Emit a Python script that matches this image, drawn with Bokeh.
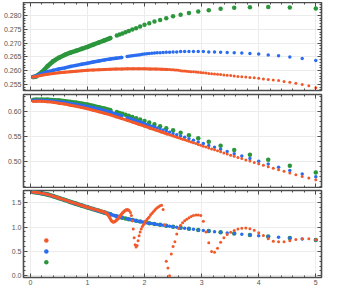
import numpy as np
from bokeh.plotting import figure
from bokeh.layouts import column
from bokeh.models import Range1d, LinearAxis, FixedTicker, PrintfTickFormatter, Grid
from bokeh.embed import file_html
from bokeh.resources import INLINE

# ---------------- data ----------------
X_GREEN = [0.05, 0.1, 0.2, 0.3, 0.4, 0.5, 0.6, 0.7, 0.8, 0.9, 1.0, 1.1, 1.2, 1.3, 1.4,
           1.515, 1.563, 1.613, 1.667, 1.724, 1.786, 1.852, 1.923, 2.0, 2.083, 2.174, 2.273,
           2.381, 2.5, 2.632, 2.778, 2.941, 3.125, 3.333, 3.571, 3.846, 4.167, 4.545, 5.0]
TOP_GREEN = [0.2577, 0.2579, 0.2594, 0.2616, 0.2634, 0.2647, 0.2657, 0.2665, 0.2672, 0.2679,
             0.2686, 0.2694, 0.2702, 0.2710, 0.2718, 0.2727, 0.2731, 0.2735, 0.2739, 0.2744,
             0.2749, 0.2754, 0.2760, 0.2766, 0.2772, 0.2778, 0.2784, 0.2790, 0.2797, 0.2803,
             0.2809, 0.2814, 0.2819, 0.2824, 0.2828, 0.2830, 0.2831, 0.2829, 0.2825]
MID_GREEN = [0.6222, 0.6226, 0.6228, 0.6225, 0.6218, 0.6209, 0.6197, 0.6182, 0.6165, 0.6146,
             0.6125, 0.6101, 0.6075, 0.6047, 0.6017, 0.5980, 0.5963, 0.5946, 0.5927, 0.5906,
             0.5884, 0.5860, 0.5834, 0.5805, 0.5773, 0.5738, 0.5700, 0.5660, 0.5618, 0.5570,
             0.5518, 0.5460, 0.5392, 0.5312, 0.5228, 0.5130, 0.5030, 0.4912, 0.4780]
BOT_GREEN = [1.720, 1.715, 1.696, 1.670, 1.635, 1.597, 1.558, 1.518, 1.480, 1.443,
             1.407, 1.371, 1.335, 1.299, 1.263, 1.220, 1.205, 1.190, 1.175, 1.160,
             1.145, 1.130, 1.113, 1.095, 1.080, 1.064, 1.046, 1.027, 1.007, 0.987,
             0.965, 0.943, 0.919, 0.893, 0.867, 0.839, 0.809, 0.775, 0.737]

X_BLUE = [0.05, 0.1, 0.2, 0.3, 0.4, 0.5, 0.6, 0.7, 0.8, 0.9, 1.0, 1.1, 1.2, 1.3, 1.4, 1.5, 1.6,
          1.695, 1.724, 1.754, 1.786, 1.818, 1.852, 1.887, 1.923, 1.961, 2.0, 2.041, 2.083,
          2.128, 2.174, 2.222, 2.273, 2.326, 2.381, 2.439, 2.5, 2.564, 2.632, 2.703, 2.778,
          2.857, 2.941, 3.030, 3.125, 3.226, 3.333, 3.448, 3.571, 3.704, 3.846, 4.0, 4.167,
          4.348, 4.545, 4.762, 5.0]
TOP_BLUE = [0.2577, 0.2581, 0.2589, 0.2596, 0.2601, 0.2606, 0.2610, 0.2615, 0.2619, 0.2623,
            0.2627, 0.2631, 0.2635, 0.2639, 0.2642, 0.2645, 0.2648,
            0.2651, 0.2652, 0.2653, 0.2654, 0.2655, 0.2656, 0.2657, 0.2658, 0.2659, 0.2660,
            0.2661, 0.2662, 0.2663, 0.2664, 0.2665, 0.2665, 0.2666, 0.2667, 0.2667, 0.2668,
            0.2668, 0.2669, 0.2669, 0.2669, 0.2669, 0.2669, 0.2669, 0.2668, 0.2668, 0.2667,
            0.2666, 0.2665, 0.2664, 0.2662, 0.2660, 0.2657, 0.2654, 0.2649, 0.2644, 0.2637]
MID_BLUE = [0.6210, 0.6212, 0.6212, 0.6207, 0.6197, 0.6185, 0.6170, 0.6152, 0.6133, 0.6112,
            0.6089, 0.6065, 0.6038, 0.6010, 0.5979, 0.5938, 0.5903,
            0.5868, 0.5857, 0.5846, 0.5834, 0.5821, 0.5808, 0.5795, 0.5781, 0.5766, 0.5750,
            0.5734, 0.5717, 0.5700, 0.5682, 0.5663, 0.5644, 0.5623, 0.5602, 0.5580, 0.5556,
            0.5531, 0.5505, 0.5478, 0.5449, 0.5419, 0.5387, 0.5353, 0.5317, 0.5279, 0.5239,
            0.5197, 0.5152, 0.5105, 0.5055, 0.5002, 0.4945, 0.4884, 0.4819, 0.4750, 0.4695]
BOT_BLUE = [1.720, 1.715, 1.696, 1.670, 1.635, 1.597, 1.558, 1.518, 1.480, 1.443,
            1.407, 1.371, 1.335, 1.299, 1.263, 1.228, 1.195,
            1.170, 1.162, 1.155, 1.147, 1.139, 1.131, 1.122, 1.114, 1.105, 1.096,
            1.088, 1.080, 1.072, 1.064, 1.055, 1.046, 1.037, 1.027, 1.017, 1.007,
            0.997, 0.987, 0.976, 0.965, 0.954, 0.943, 0.931, 0.919, 0.906, 0.893,
            0.880, 0.867, 0.853, 0.839, 0.824, 0.809, 0.792, 0.775, 0.757, 0.737]

X_ORANGE = [0.05, 0.1, 0.2, 0.3, 0.4, 0.5, 0.6, 0.7, 0.8, 0.9, 1.0, 1.1, 1.2, 1.3, 1.4, 1.5,
            1.6, 1.7, 1.8, 1.9, 2.0, 2.1, 2.2, 2.3, 2.4,
            2.439, 2.469, 2.5, 2.532, 2.564, 2.597, 2.632, 2.667, 2.703, 2.740, 2.778, 2.817,
            2.857, 2.899, 2.941, 2.985, 3.030, 3.077, 3.125, 3.175, 3.226, 3.279, 3.333, 3.390,
            3.448, 3.509, 3.571, 3.636, 3.704, 3.774, 3.846, 3.922, 4.0, 4.082, 4.167, 4.255,
            4.348, 4.444, 4.545, 4.651, 4.762, 4.878, 5.0]
TOP_ORANGE = [0.2577, 0.2579, 0.2583, 0.2587, 0.2590, 0.2592, 0.2594, 0.2596, 0.2598, 0.2600,
              0.2601, 0.2602, 0.2603, 0.2604, 0.2605, 0.2606, 0.2606, 0.2607, 0.2607, 0.2607,
              0.2607, 0.2606, 0.2606, 0.2605, 0.2604,
              0.2604, 0.2603, 0.2603, 0.2602, 0.2602, 0.2601, 0.2600, 0.2599, 0.2599, 0.2598,
              0.2597, 0.2596, 0.2596, 0.2595, 0.2594, 0.2593, 0.2592, 0.2591, 0.2590, 0.2589,
              0.2588, 0.2587, 0.2586, 0.2584, 0.2583, 0.2582, 0.2581, 0.2579, 0.2578, 0.2577,
              0.2575, 0.2574, 0.2572, 0.2570, 0.2568, 0.2566, 0.2564, 0.2561, 0.2558, 0.2554,
              0.2550, 0.2545, 0.2538]
MID_ORANGE = [0.6197, 0.6198, 0.6195, 0.6187, 0.6174, 0.6158, 0.6139, 0.6118, 0.6095, 0.6071,
              0.6045, 0.6017, 0.5988, 0.5958, 0.5925, 0.5886, 0.5851, 0.5814, 0.5776, 0.5738,
              0.5700, 0.5659, 0.5622, 0.5584, 0.5545,
              0.5530, 0.5518, 0.5506, 0.5493, 0.5481, 0.5468, 0.5455, 0.5441, 0.5428, 0.5413,
              0.5399, 0.5384, 0.5369, 0.5353, 0.5337, 0.5320, 0.5303, 0.5285, 0.5267, 0.5248,
              0.5229, 0.5209, 0.5189, 0.5168, 0.5147, 0.5124, 0.5102, 0.5078, 0.5055, 0.5029,
              0.5005, 0.4978, 0.4952, 0.4924, 0.4895, 0.4864, 0.4834, 0.4802, 0.4769, 0.4735,
              0.4700, 0.4668, 0.4633]

X_ORANGE_BOT = [0.05, 0.1, 0.2, 0.3, 0.4, 0.5, 0.6, 0.7, 0.8, 0.9, 1.0, 1.1, 1.2,
                1.25, 1.275, 1.3, 1.325, 1.35, 1.375, 1.4, 1.425, 1.45, 1.475, 1.5, 1.525,
                1.55, 1.575, 1.6, 1.625, 1.65, 1.675, 1.7, 1.725,
                1.754, 1.770, 1.786, 1.802, 1.818, 1.835, 1.852, 1.869, 1.887, 1.905, 1.923,
                1.942, 1.961, 1.980, 2.0, 2.020, 2.041, 2.062, 2.083, 2.105, 2.128, 2.151,
                2.174, 2.198, 2.222, 2.247, 2.273, 2.299, 2.326, 2.353, 2.381, 2.410, 2.439,
                2.469, 2.5, 2.532, 2.564, 2.597, 2.632, 2.667, 2.703, 2.740, 2.778, 2.817,
                2.857, 2.899, 2.941, 2.985, 3.030, 3.077, 3.125, 3.175, 3.226, 3.279, 3.333,
                3.390, 3.448, 3.509, 3.571, 3.636, 3.704, 3.774, 3.846, 3.922, 4.0, 4.082,
                4.167, 4.255, 4.348, 4.444, 4.545, 4.651, 4.762, 4.878, 5.0]
BOT_ORANGE = [1.722, 1.717, 1.698, 1.672, 1.637, 1.599, 1.560, 1.520, 1.482, 1.445, 1.409,
              1.374, 1.340,
              1.325, 1.315, 1.305, 1.290, 1.265, 1.225, 1.170, 1.125, 1.105, 1.110, 1.130,
              1.160, 1.195, 1.235, 1.270, 1.305, 1.330, 1.350, 1.358, 1.345,
              1.300, 1.240, 1.130, 0.960, 0.780, 0.640, 0.590, 0.620, 0.720, 0.820, 0.900,
              0.960, 1.010, 1.050, 1.080, 1.120, 1.150, 1.180, 1.210, 1.250, 1.280, 1.310,
              1.340, 1.370, 1.400, 1.420, 1.440, 1.450, 1.360, 1.050, 0.300, 0.160, 0.000,
              0.450, 0.600, 0.700, 0.860, 0.970, 1.040, 1.090, 1.130, 1.160, 1.190, 1.220,
              1.240, 1.250, 1.250, 1.240, 1.120, 0.900, 0.680, 0.500, 0.485, 0.567, 0.690,
              0.780, 0.850, 0.895, 0.930, 0.960, 0.975, 0.980, 0.965, 0.935, 0.885, 0.830,
              0.760, 0.710, 0.700, 0.700, 0.720, 0.745, 0.760, 0.760, 0.740]

KEY_X = [0.28, 0.28, 0.28]
KEY_Y = [0.725, 0.499, 0.279]

X_TICKS = [0, 1, 2, 3, 4, 5]
TOP_TICKS = [0.255, 0.260, 0.265, 0.270, 0.275, 0.280]
MID_TICKS = [0.50, 0.55, 0.60]
BOT_TICKS = [0.0, 0.5, 1.0, 1.5]

# ---------------- style ----------------
ORANGE = "#F2592A"
BLUE = "#2B6DF0"
GREEN = "#2C963C"
FRAME = "#4d4d4d"
GRIDC = "#ececec"
LABC = "#555555"
FONT = "Liberation Sans"

xr = Range1d(-0.12, 5.1)
x_minor = [round(v, 2) for v in np.arange(-0.2, 5.21, 0.2)]


def panel(yr, yticks, yminor, yfmt, fh, bt, bb, show_x):
    p = figure(frame_width=298, frame_height=fh, x_range=xr, y_range=Range1d(*yr),
               x_axis_type=None, y_axis_type=None, output_backend="svg",
               toolbar_location=None, min_border_left=20, min_border_right=7,
               min_border_top=bt, min_border_bottom=bb)
    p.outline_line_color = FRAME
    p.outline_line_width = 1.6
    p.background_fill_color = "white"
    p.border_fill_color = "white"
    xt = FixedTicker(ticks=X_TICKS, minor_ticks=x_minor)
    yt = FixedTicker(ticks=yticks, minor_ticks=yminor)
    p.add_layout(Grid(dimension=0, ticker=xt, grid_line_color=GRIDC, grid_line_width=1))
    p.add_layout(Grid(dimension=1, ticker=yt, grid_line_color=GRIDC, grid_line_width=1))
    for loc, tk, lab, fmt in [("below", xt, show_x, "%d"), ("above", xt, False, "%d"),
                              ("left", yt, True, yfmt), ("right", yt, False, yfmt)]:
        ax = LinearAxis(ticker=tk, formatter=PrintfTickFormatter(format=fmt))
        ax.axis_line_color = None
        ax.major_tick_in = 4
        ax.major_tick_out = 0
        ax.minor_tick_in = 2
        ax.minor_tick_out = 0
        ax.major_tick_line_color = FRAME
        ax.minor_tick_line_color = FRAME
        ax.major_tick_line_width = 1
        ax.minor_tick_line_width = 1
        if lab:
            ax.major_label_text_font = FONT
            ax.major_label_text_font_size = "7px"
            ax.major_label_text_color = LABC
            ax.major_label_standoff = 2
        else:
            ax.major_label_text_font_size = "0px"
            ax.major_label_text_color = None
            ax.major_label_standoff = 0
        p.add_layout(ax, loc)
    return p


def draw(p, xs, ys, color, size, cutoff):
    xd = [x for x in xs if x <= cutoff]
    yd = ys[:len(xd)]
    p.line(xd, yd, line_color=color, line_width=size, line_cap="round", line_join="round")
    p.scatter(xs, ys, size=size, fill_color=color, line_color=None, marker="circle")


top = panel((0.2528, 0.2847), TOP_TICKS, [round(v, 3) for v in np.arange(0.252, 0.2851, 0.001)],
            "%.3f", 88, 0, 2, False)
draw(top, X_GREEN, TOP_GREEN, GREEN, 4.5, 1.45)
draw(top, X_BLUE, TOP_BLUE, BLUE, 3.5, 1.65)
draw(top, X_ORANGE, TOP_ORANGE, ORANGE, 3.0, 2.42)

mid = panel((0.448, 0.633), MID_TICKS, [round(v, 2) for v in np.arange(0.44, 0.641, 0.01)],
            "%.2f", 93, 2, 1, False)
draw(mid, X_GREEN, MID_GREEN, GREEN, 4.5, 1.45)
draw(mid, X_BLUE, MID_BLUE, BLUE, 3.5, 1.65)
draw(mid, X_ORANGE, MID_ORANGE, ORANGE, 3.0, 2.42)

bot = panel((-0.035, 1.752), BOT_TICKS, [round(v, 1) for v in np.arange(-0.1, 1.81, 0.1)],
            "%.1f", 87, 2, 10, True)
draw(bot, X_GREEN, BOT_GREEN, GREEN, 4.5, 1.45)
draw(bot, X_BLUE, BOT_BLUE, BLUE, 3.5, 1.65)
draw(bot, X_ORANGE_BOT, BOT_ORANGE, ORANGE, 3.0, 1.74)
bot.scatter(KEY_X, KEY_Y, size=4.5, fill_color=[ORANGE, BLUE, GREEN], line_color=None)

root = column(top, mid, bot, spacing=0, margin=(2, 0, 0, 0))
open("out.html", "w").write(file_html(root, INLINE))
